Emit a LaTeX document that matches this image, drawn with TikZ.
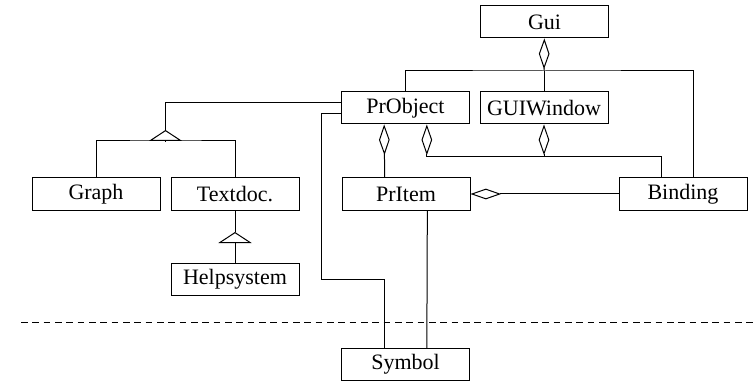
\documentclass[tikz,border=0pt]{standalone}
\usepackage{fontspec}
\setmainfont{Liberation Serif}
\usetikzlibrary{arrows.meta}

\tikzset{
  classbox/.style={draw, minimum width=96pt, minimum height=24pt, inner sep=0pt, font=\fontsize{16.5}{18}\selectfont},
  aggr/.style={-{Diamond[open,length=23pt,width=8pt]}},
  inherit/.style={-{Triangle[open,length=8.25pt,width=25pt]}},
}

\begin{document}
\begin{tikzpicture}[x=0.75pt,y=0.75pt,yscale=-1,xscale=1,line width=0.75pt]
    \useasboundingbox (0,0) rectangle (753,381);

    % Class boxes
    \node[classbox] (gui) at (544.5,22) {Gui};
    \node[classbox] (probject) at (405.5,108) {PrObject};
    \node[classbox] (guiwindow) at (544,108) {GUIWindow};
    \node[classbox] (graph) at (96,194) {Graph};
    \node[classbox] (textdoc) at (235,194) {Textdoc.};
    \node[classbox] (pritem) at (406,194) {PrItem};
    \node[classbox] (binding) at (683,194) {Binding};
    \node[classbox] (helpsystem) at (235,279) {Helpsystem};
    \node[classbox] (symbol) at (405.5,364.5) {Symbol};

    % Bend points
    \coordinate (guijoin) at (544,71);
    \coordinate (winjoin) at (544,157);
    \coordinate (genjoin) at (165.5,141);
    \coordinate (genapex) at (165.5,130);
    \coordinate (helpapex) at (235,232);
    \coordinate (symbend) at (321,279);
    \coordinate (objdia) at ([xshift=16pt]probject.south);

    % Aggregations
    \draw[aggr] (guijoin) -- (gui);
    \draw (probject.north) |- (guijoin) -| ([xshift=8pt]binding.north);
    \draw (guiwindow) -- (guijoin);
    \draw[aggr] (winjoin) -- (guiwindow);
    \draw[aggr] ([xshift=-16pt]pritem.north) -- ([xshift=-16pt]probject.south);
    \draw[aggr] (objdia |- winjoin) -- (objdia);
    \draw (objdia |- winjoin) -| ([xshift=-16pt]binding.north);
    \draw[aggr] (binding) -- (pritem);

    % Inheritance
    \draw ([yshift=-4pt]probject.west) -| (genapex);
    \draw[inherit] (genjoin) -- (genapex);
    \draw (graph.north) |- (genjoin) -| (textdoc.north);
    \draw (textdoc) -- (helpapex);
    \draw[inherit] (helpsystem) -- (helpapex);

    % Symbol links
    \draw ([yshift=4pt]probject.west) -| (symbend) -| ([xshift=-16pt]symbol.north);
    \draw ([xshift=16pt]pritem.south) -- ([xshift=16pt]symbol.north);

    %Dashed Line
    \draw[dash pattern=on 5pt off 3.5pt] (21,322) -- (753,322);
\end{tikzpicture}
\end{document}
